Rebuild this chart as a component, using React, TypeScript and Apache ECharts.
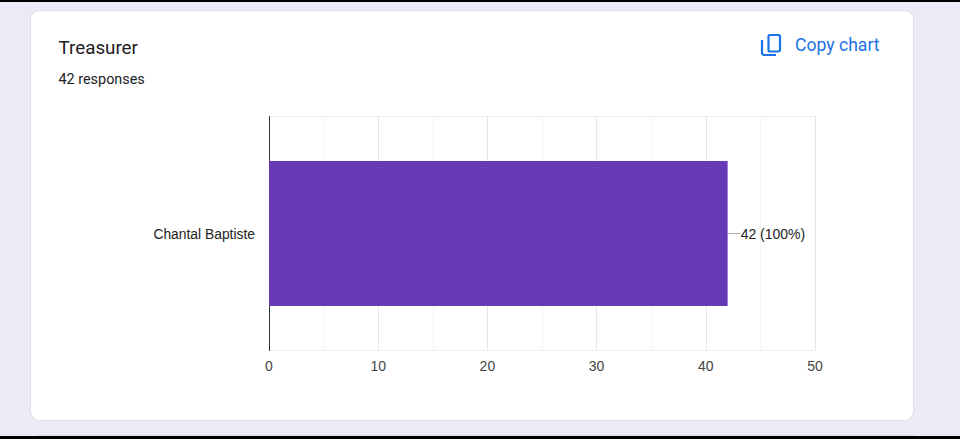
import React, { useEffect, useRef } from "react";
import * as echarts from "echarts";

const categories = ["Chantal Baptiste"];
const responses = [42];
const barLabels = ["42 (100%)"];
const titleText = "Treasurer";
const subtitleText = "42 responses";
const copyText = "Copy chart";

export default function App() {
  const ref = useRef<HTMLDivElement>(null);
  useEffect(() => {
    document.body.style.margin = "0";
    document.body.style.overflow = "hidden";
    const chart = echarts.init(ref.current!, undefined, { renderer: "svg" });
    chart.setOption({
      animation: false,
      backgroundColor: "#EEE9F7",
      grid: { left: 269, top: 116.5, width: 546, height: 234, containLabel: false },
      xAxis: {
        type: "value",
        min: 0,
        max: 50,
        interval: 10,
        axisLine: { show: false },
        axisTick: { show: false },
        axisLabel: { color: "#444", fontFamily: "Liberation Sans", fontSize: 14, margin: 8 },
        splitLine: { show: true, lineStyle: { color: "#E6E6E6", width: 1 } },
        minorTick: { show: false, splitNumber: 2 },
        minorSplitLine: { show: true, lineStyle: { color: "#F4F4F4", width: 1 } },
      },
      yAxis: {
        type: "category",
        data: categories,
        axisLine: { show: true, lineStyle: { color: "#333", width: 1 } },
        axisTick: { show: false },
        axisLabel: { color: "#222", fontFamily: "Liberation Sans", fontSize: 13.85, margin: 14, padding: [0, 0, 1, 0] },
        splitLine: { show: true, lineStyle: { color: "#EDEDED", width: 1 } },
      },
      series: [
        {
          type: "bar",
          data: responses,
          barWidth: 145,
          itemStyle: { color: "#673AB7" },
          label: {
            show: true,
            position: "right",
            distance: 0,
            color: "#222",
            fontFamily: "Liberation Sans",
            fontSize: 14,
            formatter: (p: any) => barLabels[p.dataIndex],
          },
          labelLayout: { dx: 13 },
          labelLine: { show: true, lineStyle: { color: "#B5B5B5", width: 1 } },
        },
      ],
      graphic: [
        { type: "rect", z: -20, silent: true, shape: { x: 0, y: 0, width: 960, height: 2 }, style: { fill: "#000" } },
        { type: "rect", z: -20, silent: true, shape: { x: 0, y: 436, width: 960, height: 3 }, style: { fill: "#000" } },
        { type: "rect", z: -19, silent: true, shape: { x: 36, y: 435, width: 880, height: 1 }, style: { fill: "#DADCE0" } },
        {
          type: "rect",
          z: -10,
          silent: true,
          shape: { x: 30.5, y: 10.5, width: 883, height: 410, r: 9 },
          style: { fill: "#fff", stroke: "#DFDEE6", lineWidth: 1 },
        },
        {
          type: "text",
          z: 5,
          x: 58.5,
          y: 38.5,
          style: { text: titleText, fill: "#202124", font: "400 18.8px Roboto" },
        },
        {
          type: "text",
          z: 5,
          x: 58.5,
          y: 72.5,
          style: { text: subtitleText, fill: "#202124", font: "400 14.4px Roboto" },
        },
        {
          type: "rect",
          z: 5,
          shape: { x: 768.5, y: 35, width: 11.5, height: 16.5, r: 1.5 },
          style: { fill: "none", stroke: "#1A73E8", lineWidth: 2.2 },
        },
        {
          type: "polyline",
          z: 5,
          shape: { points: [[762, 40], [762, 53.5], [763.5, 55], [776, 55]] },
          style: { fill: "none", stroke: "#1A73E8", lineWidth: 2.2 },
        },
        {
          type: "text",
          z: 5,
          x: 795,
          y: 36,
          style: { text: copyText, fill: "#1A73E8", font: "400 17.6px Roboto" },
        },
      ],
    });
    return () => chart.dispose();
  }, []);
  return <div ref={ref} style={{ width: 960, height: 439 }} />;
}
